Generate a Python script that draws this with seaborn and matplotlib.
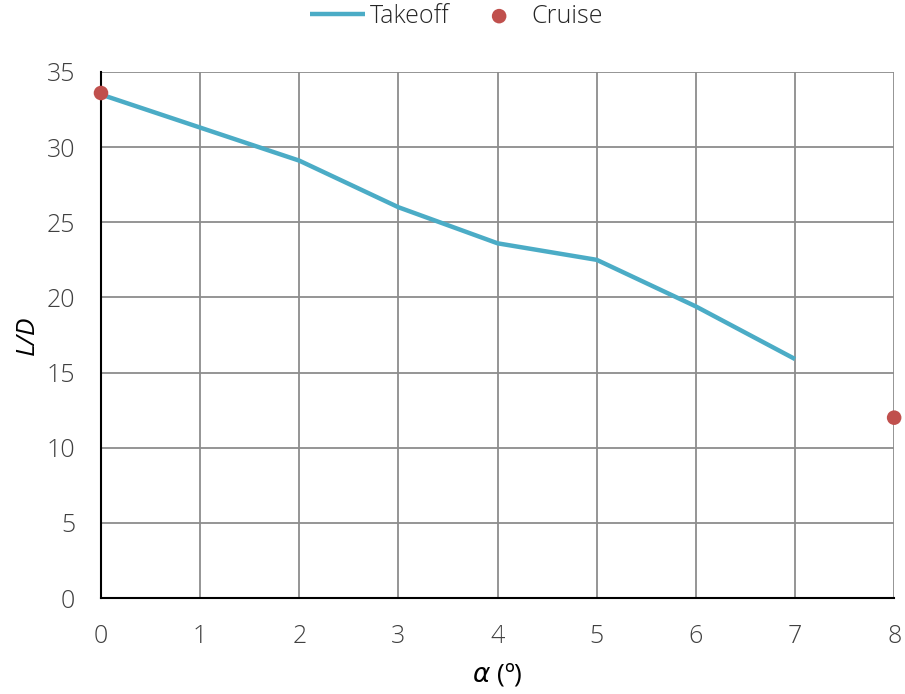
import matplotlib
matplotlib.use("Agg")
import matplotlib.pyplot as plt
import seaborn as sns
import pandas as pd

# data
alpha_takeoff = [0, 1, 2, 3, 4, 5, 6, 7]
ld_takeoff = [33.5, 31.3, 29.1, 26.0, 23.6, 22.5, 19.4, 15.9]
alpha_cruise = [0, 8]
ld_cruise = [33.6, 12.0]

takeoff = pd.DataFrame({'alpha': alpha_takeoff, 'LD': ld_takeoff})
cruise = pd.DataFrame({'alpha': alpha_cruise, 'LD': ld_cruise})

sns.set_style('white')
plt.rcParams['font.family'] = ['Open Sans', 'DejaVu Sans']
plt.rcParams['font.weight'] = 'light'

fig = plt.figure(figsize=(9.05, 6.94), dpi=100)
ax = fig.add_axes([0.1116, 0.1383, 0.8764, 0.758])

sns.lineplot(data=takeoff, x='alpha', y='LD', ax=ax, color='#4BACC6', linewidth=3.2,
             label='Takeoff', zorder=3, solid_capstyle='butt')
sns.scatterplot(data=cruise, x='alpha', y='LD', ax=ax, color='#C0504D', s=110,
                edgecolor='none', label='Cruise', zorder=4, clip_on=False)

ax.set_xlim(0, 8)
ax.set_ylim(0, 35)
ax.set_xticks(range(0, 9))
ax.set_yticks(range(0, 36, 5))
ax.grid(True, color='#8c8c8c', linewidth=1.3)
ax.set_axisbelow(True)
for s in ['top', 'right']:
    ax.spines[s].set_visible(False)
for s in ['left', 'bottom']:
    ax.spines[s].set_color('black')
    ax.spines[s].set_linewidth(1.5)
ax.tick_params(axis='both', direction='out', length=6.5, width=1.5, color='black',
               labelsize=18, labelcolor='#404040')
ax.tick_params(axis='x', pad=12)
ax.tick_params(axis='y', pad=12)

ax.set_xlabel(r'$\alpha$ (º)', fontsize=19, color='black', labelpad=9)
ax.set_ylabel('L/D', fontsize=19, style='italic', color='black', labelpad=5)

ax.legend(loc='center', bbox_to_anchor=(0.448, 1.106), ncol=2, frameon=False,
          fontsize=18, handlelength=2.2, handletextpad=0.2, columnspacing=0.9,
          borderaxespad=0)

fig.savefig('out.png', dpi=100)
